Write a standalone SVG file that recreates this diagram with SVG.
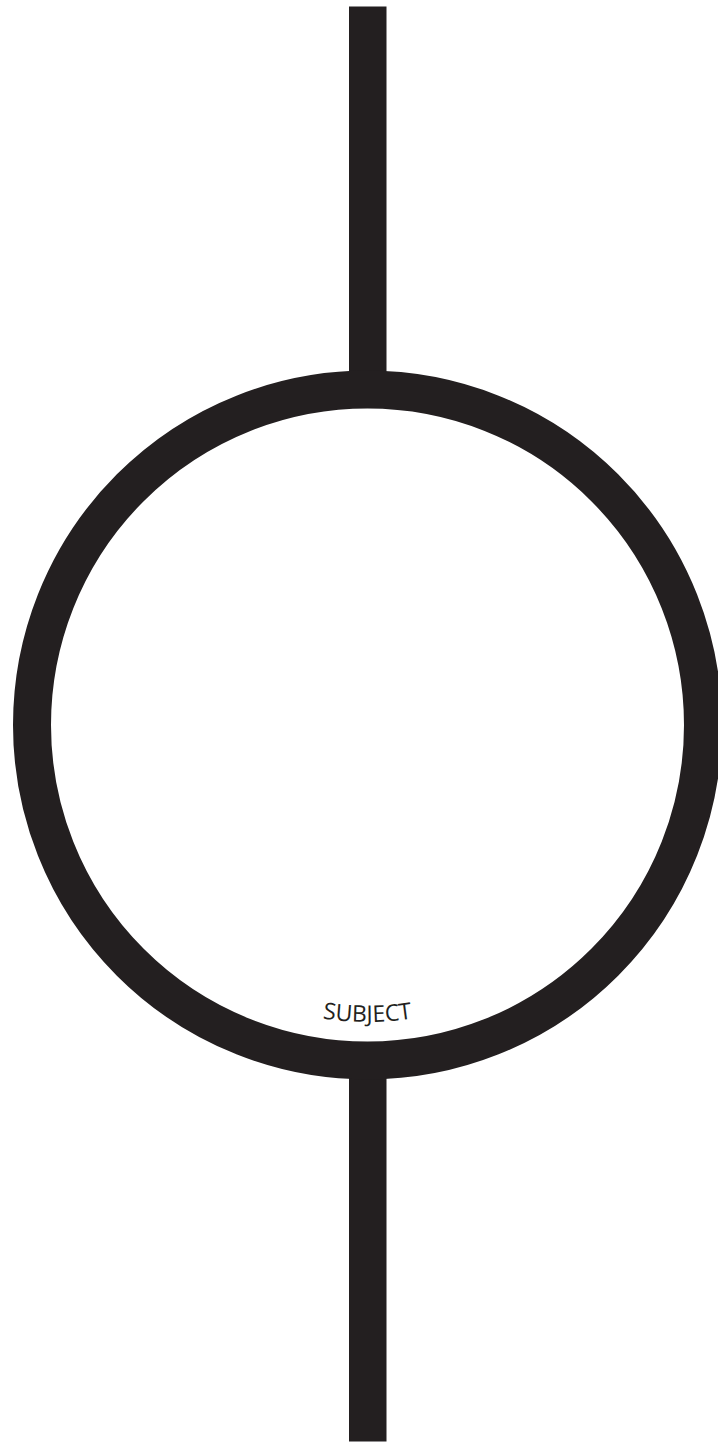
<svg xmlns="http://www.w3.org/2000/svg" width="718" height="1443" viewBox="0 0 718 1443">
  <style>
    .ink { fill: #231f20; }
    .ring { fill: none; stroke: #231f20; stroke-width: 38; }
    .label { font-family: "Open Sans", "Noto Sans", "Liberation Sans", sans-serif; font-size: 23px; fill: #231f20; }
  </style>
  <defs>
    <path id="labelArc" d="M 70.5 725 A 297 297 0 0 0 664.5 725"/>
  </defs>
  <g id="connectors">
    <rect class="ink" x="349" y="6.5" width="37.5" height="384"/>
    <rect class="ink" x="349" y="1060" width="37.5" height="381.5"/>
  </g>
  <g id="subject">
    <circle class="ring" cx="367.5" cy="725" r="335.5"/>
    <text class="label" text-anchor="middle"><textPath href="#labelArc" startOffset="50%">SUBJECT</textPath></text>
  </g>
</svg>
